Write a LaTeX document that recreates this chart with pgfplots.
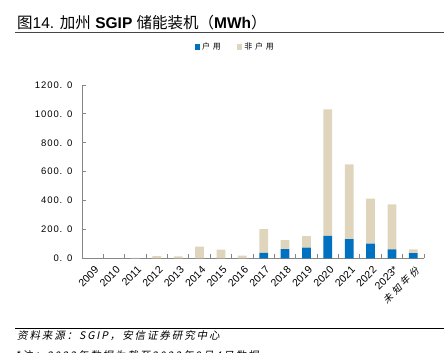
\documentclass[border=0pt]{standalone}
\usepackage{fontspec}
\setmainfont{Liberation Sans}
\newfontfamily\cjk{Noto Sans CJK SC}
\newfontfamily\cjkit[FakeSlant=0.2]{Noto Sans CJK SC}
\usepackage{pgfplots}
\pgfplotsset{compat=1.18}
\definecolor{hh}{RGB}{0,112,192}
\definecolor{nh}{RGB}{222,213,188}
\definecolor{axgray}{RGB}{134,134,134}
\definecolor{titlerule}{RGB}{70,70,70}

\pgfplotstableread{
x hh nh
0 0 0
1 0 0
2 0 3
3 0 15
4 0 13
5 0 80
6 0 60
7 0 18
8 37 165
9 64 62
10 74 80
11 156 876
12 133 518
13 101 313
14 62 311
15 35 27
}\datatable

\begin{document}
\begin{tikzpicture}[x=1pt,y=1pt]
\useasboundingbox (0,0) rectangle (444,353);
% title
\node[anchor=base west, inner sep=0] at (17,324.5) {\fontsize{15.5}{15.5}\selectfont{\cjk 图}14. {\cjk 加州} \textbf{SGIP} {\cjk 储能装机（}\textbf{MWh}{\cjk ）}};
\draw[titlerule, line width=1.5pt] (15,320.5) -- (444,320.5);
% footer
\draw[black, line width=0.8pt] (15,24.5) -- (444,24.5);
\node[anchor=base west, inner sep=0] at (17,13) {\fontsize{10.5}{10.5}\selectfont\cjkit\addfontfeature{LetterSpace=18}资料来源：SGIP，安信证券研究中心};
\node[anchor=base west, inner sep=0] at (15,-6.5) {\fontsize{10.5}{10.5}\selectfont\cjkit\addfontfeature{LetterSpace=18}*注：2023年数据为截至2023年9月4日数据};

\begin{axis}[
  at={(82pt,94.7pt)}, anchor=south west,
  scale only axis, width=342pt, height=173.3pt,
  ybar stacked, bar width=8.7pt,
  xmin=-0.5, xmax=15.5, ymin=0, ymax=1200,
  axis x line*=bottom, axis y line*=left,
  axis line style={axgray, line width=0.8pt},
  tick align=inside,
  major tick length=4pt,
  every tick/.style={axgray, line width=0.8pt},
  ytick={0,200,...,1200},
  yticklabels={0. 0,200. 0,400. 0,600. 0,800. 0,1000. 0,1200. 0},
  yticklabel style={font=\fontsize{9.5}{9.5}\selectfont\addfontfeature{LetterSpace=10}, xshift=-6pt},
  xtick={-0.5,0.5,...,15.5},
  x tick label as interval,
  xticklabels={2009,2010,2011,2012,2013,2014,2015,2016,2017,2018,2019,2020,2021,2022,2023*,{\cjkit\fontsize{9.5}{9.5}\selectfont\addfontfeature{LetterSpace=30}未知年份}},
  xticklabel style={font=\fontsize{10.5}{10.5}\selectfont, rotate=45, anchor=north east, inner sep=1pt, yshift=-5pt, xshift=-3pt},
  legend style={at={(0.448,1.221)}, anchor=center, draw=none, fill=none,
    font=\fontsize{8}{8}\selectfont\cjk\addfontfeature{LetterSpace=35},
    /tikz/every even column/.append style={column sep=14pt}},
  legend columns=2,
  legend image code/.code={\fill[#1] (0pt,-2.8pt) rectangle (5.5pt,2.8pt);},
]
\addplot[fill=hh, draw=none] table[x=x, y=hh] {\datatable};
\addplot[fill=nh, draw=none] table[x=x, y=nh] {\datatable};
\legend{户用,非户用}
\end{axis}
\end{tikzpicture}
\end{document}
